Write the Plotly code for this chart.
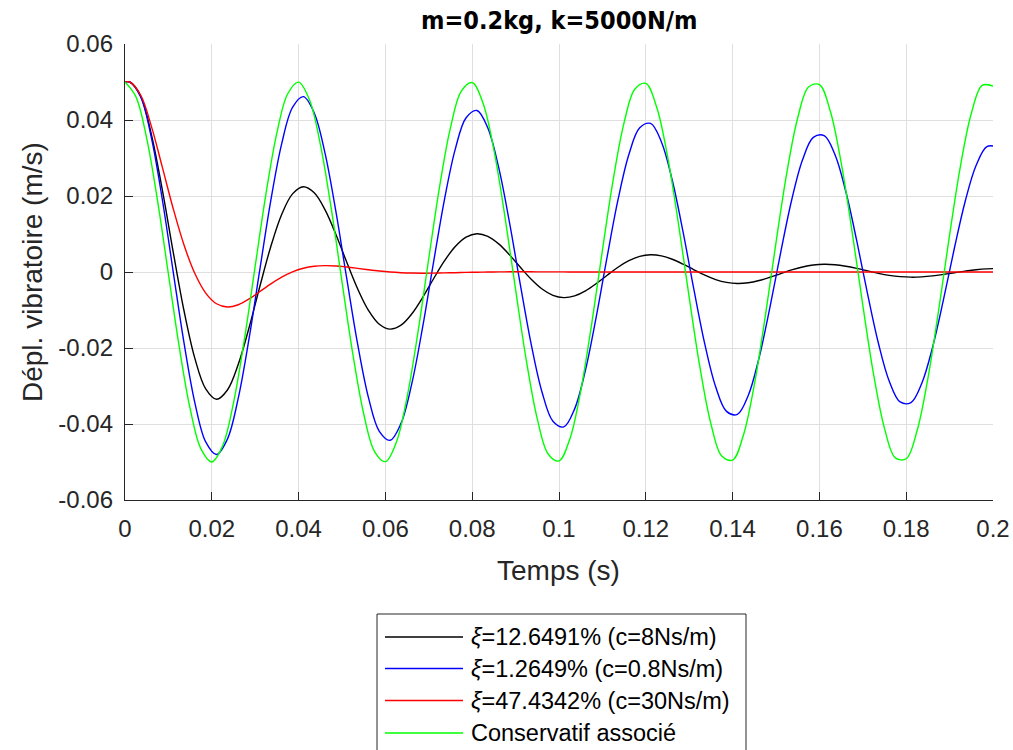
import plotly.graph_objects as go

# ---------------- data ----------------
t = [0.0000, 0.0025, 0.0050, 0.0075, 0.0100, 0.0125, 0.0150, 0.0175, 0.0200, 0.0225,
     0.0250, 0.0275, 0.0300, 0.0325, 0.0350, 0.0375, 0.0400, 0.0425, 0.0450, 0.0475,
     0.0500, 0.0525, 0.0550, 0.0575, 0.0600, 0.0625, 0.0650, 0.0675, 0.0700, 0.0725,
     0.0750, 0.0775, 0.0800, 0.0825, 0.0850, 0.0875, 0.0900, 0.0925, 0.0950, 0.0975,
     0.1000, 0.1025, 0.1050, 0.1075, 0.1100, 0.1125, 0.1150, 0.1175, 0.1200, 0.1225,
     0.1250, 0.1275, 0.1300, 0.1325, 0.1350, 0.1375, 0.1400, 0.1425, 0.1450, 0.1475,
     0.1500, 0.1525, 0.1550, 0.1575, 0.1600, 0.1625, 0.1650, 0.1675, 0.1700, 0.1725,
     0.1750, 0.1775, 0.1800, 0.1825, 0.1850, 0.1875, 0.1900, 0.1925, 0.1950, 0.1975,
     0.2000]

# the damped responses stay at their initial value for a short while (~1.1 ms)
# before oscillating, so they are sampled on a time grid delayed by that amount
t_damped = [0.0000, 0.0011, 0.0036, 0.0061, 0.0086, 0.0111, 0.0136, 0.0161, 0.0186, 0.0211, 0.0236,
            0.0261, 0.0286, 0.0311, 0.0336, 0.0361, 0.0386, 0.0411, 0.0436, 0.0461, 0.0486,
            0.0511, 0.0536, 0.0561, 0.0586, 0.0611, 0.0636, 0.0661, 0.0686, 0.0711, 0.0736,
            0.0761, 0.0786, 0.0811, 0.0836, 0.0861, 0.0886, 0.0911, 0.0936, 0.0961, 0.0986,
            0.1011, 0.1036, 0.1061, 0.1086, 0.1111, 0.1136, 0.1161, 0.1186, 0.1211, 0.1236,
            0.1261, 0.1286, 0.1311, 0.1336, 0.1361, 0.1386, 0.1411, 0.1436, 0.1461, 0.1486,
            0.1511, 0.1536, 0.1561, 0.1586, 0.1611, 0.1636, 0.1661, 0.1686, 0.1711, 0.1736,
            0.1761, 0.1786, 0.1811, 0.1836, 0.1861, 0.1886, 0.1911, 0.1936, 0.1961, 0.1986,
            0.2011]

x_c8 = [0.05000,
        0.05000, 0.04627, 0.03610, 0.02160, 0.00532, -0.01020, -0.02274, -0.03076, -0.03349, -0.03105,
        -0.02429, -0.01460, -0.00369, 0.00672, 0.01514, 0.02056, 0.02244, 0.02084, 0.01634, 0.00987,
        0.00256, -0.00442, -0.01009, -0.01374, -0.01503, -0.01399, -0.01099, -0.00667, -0.00178, 0.00291,
        0.00672, 0.00919, 0.01007, 0.00939, 0.00740, 0.00451, 0.00123, -0.00191, -0.00448, -0.00614,
        -0.00674, -0.00630, -0.00498, -0.00304, -0.00085, 0.00126, 0.00298, 0.00411, 0.00452, 0.00423,
        0.00335, 0.00206, 0.00059, -0.00083, -0.00199, -0.00274, -0.00303, -0.00284, -0.00225, -0.00139,
        -0.00041, 0.00054, 0.00132, 0.00184, 0.00203, 0.00191, 0.00151, 0.00094, 0.00028, -0.00036,
        -0.00088, -0.00122, -0.00136, -0.00128, -0.00102, -0.00063, -0.00019, 0.00023, 0.00059, 0.00082,
        0.00091]

x_c08 = [0.05000,
         0.05000, 0.04616, 0.03526, 0.01908, 0.00011, -0.01868, -0.03442, -0.04472, -0.04804, -0.04397,
         -0.03319, -0.01743, 0.00087, 0.01884, 0.03373, 0.04331, 0.04615, 0.04186, 0.03121, 0.01586,
         -0.00176, -0.01894, -0.03305, -0.04193, -0.04429, -0.03984, -0.02931, -0.01439, 0.00260, 0.01901,
         0.03234, 0.04058, 0.04250, 0.03789, 0.02751, 0.01300, -0.00336, -0.01903, -0.03163, -0.03926,
         -0.04076, -0.03602, -0.02579, -0.01169, 0.00405, 0.01902, 0.03091, 0.03795, 0.03909, 0.03423,
         0.02415, 0.01047, -0.00469, -0.01897, -0.03019, -0.03667, -0.03747, -0.03250, -0.02258, -0.00931,
         0.00526, 0.01888, 0.02946, 0.03543, 0.03588, 0.03084, 0.02111, 0.00824, -0.00578, -0.01876,
         -0.02874, -0.03420, -0.03436, -0.02925, -0.01970, -0.00722, 0.00625, 0.01862, 0.02801, 0.03301,
         0.03289]

x_c30 = [0.05000,
         0.05000, 0.04658, 0.03825, 0.02759, 0.01672, 0.00710, -0.00041, -0.00554, -0.00835, -0.00920,
         -0.00861, -0.00709, -0.00514, -0.00313, -0.00135, 0.00005, 0.00100, 0.00153, 0.00169, 0.00159,
         0.00131, 0.00096, 0.00059, 0.00026, 0.00000, -0.00018, -0.00028, -0.00031, -0.00029, -0.00024,
         -0.00018, -0.00011, -0.00005, 0.00000, 0.00003, 0.00005, 0.00006, 0.00005, 0.00004, 0.00003,
         0.00002, 0.00001, 0.0, 0.0, 0.0, 0.0, 0.0, 0.0, 0.0, 0.0,
         0.0, 0.0, 0.0, 0.0, 0.0, 0.0, 0.0, 0.0, 0.0, 0.0,
         0.0, 0.0, 0.0, 0.0, 0.0, 0.0, 0.0, 0.0, 0.0, 0.0,
         0.0, 0.0, 0.0, 0.0, 0.0, 0.0, 0.0, 0.0, 0.0, 0.0,
         0.0]

x_cons = [0.05000, 0.04615, 0.03517, 0.01878, -0.00052, -0.01973, -0.03591, -0.04654, -0.04999, -0.04574,
          -0.03443, -0.01782, 0.00155, 0.02068, 0.03661, 0.04690, 0.04996, 0.04531, 0.03368, 0.01685,
          -0.00258, -0.02161, -0.03731, -0.04725, -0.04990, -0.04487, -0.03291, -0.01587, 0.00362, 0.02254,
          0.03799, 0.04758, 0.04983, 0.04440, 0.03212, 0.01489, -0.00465, -0.02345, -0.03865, -0.04789,
          -0.04973, -0.04392, -0.03132, -0.01390, 0.00567, 0.02437, 0.03930, 0.04817, 0.04962, 0.04341,
          0.03051, 0.01290, -0.00670, -0.02526, -0.03993, -0.04844, -0.04948, -0.04290, -0.02968, -0.01190,
          0.00772, 0.02615, 0.04054, 0.04869, 0.04932, 0.04235, 0.02885, 0.01090, -0.00874, -0.02702,
          -0.04114, -0.04891, -0.04914, -0.04179, -0.02800, -0.00989, 0.00976, 0.02788, 0.04172, 0.04912,
          0.04894]

series_names = ["<i>ξ</i>=12.6491% (c=8Ns/m)",
                "<i>ξ</i>=1.2649% (c=0.8Ns/m)",
                "<i>ξ</i>=47.4342% (c=30Ns/m)",
                "Conservatif associé"]
series_time = [t_damped, t_damped, t_damped, t]
series_values = [x_c8, x_c08, x_c30, x_cons]
series_colors = ["#000000", "#0000ff", "#ff0000", "#00ff00"]

x_tickvals = [0, 0.02, 0.04, 0.06, 0.08, 0.1, 0.12, 0.14, 0.16, 0.18, 0.2]
x_ticktext = ["0", "0.02", "0.04", "0.06", "0.08", "0.1", "0.12", "0.14", "0.16", "0.18", "0.2"]
y_tickvals = [-0.06, -0.04, -0.02, 0, 0.02, 0.04, 0.06]
y_ticktext = ["-0.06", "-0.04", "-0.02", "0", "0.02", "0.04", "0.06"]

title_text = "m=0.2kg, k=5000N/m"
x_title = "Temps (s)"
y_title = "Dépl. vibratoire (m/s)"

# ---------------- layout geometry ----------------
W, H = 1013, 750
L, R, T, B = 125, 20, 44, 250
PW, PH = W - L - R, H - T - B
FONT = "Liberation Sans, Arial, Helvetica, sans-serif"
AX = "#262626"
GRID = "#dfdfdf"


def px(xp):
    return (xp - L) / PW


def py(yp):
    return (T + PH - yp) / PH


fig = go.Figure()
for name, tt, vals, col in zip(series_names, series_time, series_values, series_colors):
    fig.add_trace(go.Scatter(x=tt, y=vals, mode="lines", name=name,
                             line=dict(color=col, width=1.4, shape="spline", smoothing=1.0),
                             showlegend=False, hoverinfo="skip"))

axis_common = dict(showline=True, linecolor=AX, linewidth=1.3, mirror=False,
                   ticks="inside", ticklen=8, tickwidth=1.3, tickcolor=AX,
                   showgrid=True, gridcolor=GRID, gridwidth=1, zeroline=False,
                   tickfont=dict(family=FONT, size=24, color=AX))

fig.update_xaxes(range=[0, 0.2], tickmode="array", tickvals=x_tickvals, ticktext=x_ticktext,
                 ticklabelstandoff=7, **axis_common)
fig.update_yaxes(range=[-0.06, 0.06], tickmode="array", tickvals=y_tickvals, ticktext=y_ticktext,
                 ticklabelstandoff=6, **axis_common)

annotations = [
    dict(text=f"<b>{title_text}</b>", x=px(559), y=py(20), xref="paper", yref="paper",
         showarrow=False, xanchor="center", yanchor="middle",
         font=dict(family="Liberation Sans Narrow, DejaVu Sans Condensed, Arial Narrow, sans-serif",
                   size=25, color="#000000")),
    dict(text=x_title, x=px(558), y=py(570), xref="paper", yref="paper",
         showarrow=False, xanchor="center", yanchor="middle",
         font=dict(family=FONT, size=28, color=AX)),
    dict(text=y_title, x=px(32), y=py(272), xref="paper", yref="paper", textangle=-90,
         showarrow=False, xanchor="center", yanchor="middle",
         font=dict(family=FONT, size=28, color=AX)),
]

shapes = [dict(type="rect", xref="paper", yref="paper", x0=px(377), x1=px(746),
               y0=py(614), y1=py(770), line=dict(color=AX, width=1), fillcolor="white", layer="above")]

row_y = [637, 668.5, 700.5, 733]
for name, col, ry in zip(series_names, series_colors, row_y):
    shapes.append(dict(type="line", xref="paper", yref="paper", x0=px(385), x1=px(463),
                       y0=py(ry), y1=py(ry), line=dict(color=col, width=1.4), layer="above"))
    annotations.append(dict(text=name, x=px(469), y=py(ry), xref="paper", yref="paper",
                            showarrow=False, xanchor="left", yanchor="middle",
                            font=dict(family=FONT, size=23.5, color="#000000")))

fig.update_layout(width=W, height=H, margin=dict(l=L, r=R, t=T, b=B, autoexpand=False),
                  paper_bgcolor="white", plot_bgcolor="white",
                  annotations=annotations, shapes=shapes, showlegend=False)

fig.write_html("out.html", include_plotlyjs=True, config={"displayModeBar": False})
